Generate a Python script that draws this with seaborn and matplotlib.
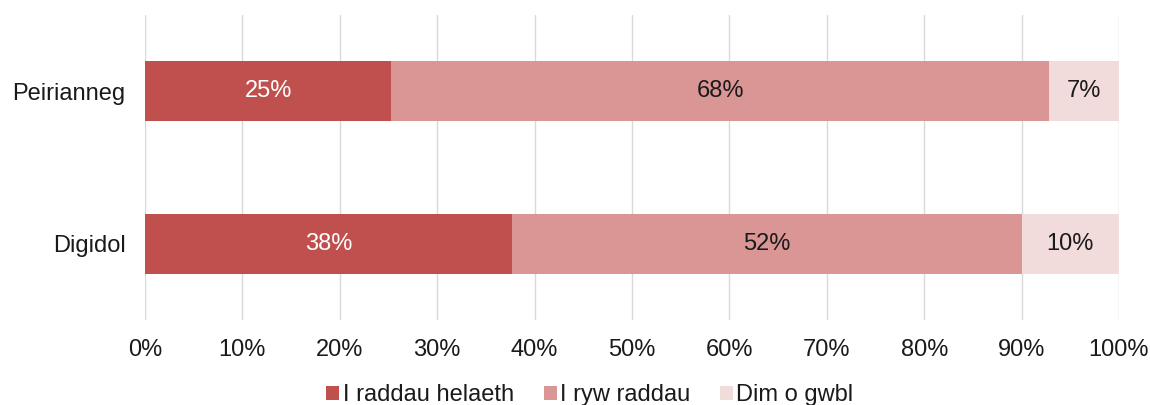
import matplotlib
matplotlib.use("Agg")
import matplotlib.pyplot as plt
import seaborn as sns
import pandas as pd
import numpy as np
from matplotlib.patches import Patch

categories = ["Peirianneg", "Digidol"]
series_names = ["I raddau helaeth", "I ryw raddau", "Dim o gwbl"]
helaeth = [25.3, 37.7]
rhyw = [67.5, 52.3]
dim = [7.2, 10.0]
labels_helaeth = ["25%", "38%"]
labels_rhyw = ["68%", "52%"]
labels_dim = ["7%", "10%"]
colors = ["#C0504D", "#D99694", "#F2DCDB"]
xticks = [0, 10, 20, 30, 40, 50, 60, 70, 80, 90, 100]

sns.set_theme(style="white")
plt.rcParams['font.family'] = ['Liberation Sans', 'DejaVu Sans']
FS = 17

fig = plt.figure(figsize=(11.5, 4.05), dpi=100)
ax = fig.add_axes([145/1150, 1-320/405, (1119-145)/1150, 305/405])

series = [helaeth, rhyw, dim]
cum = np.cumsum(np.array(series), axis=0)
# draw cumulative bars from largest to smallest so they stack visually
for i in range(2, -1, -1):
    df = pd.DataFrame({"cat": categories, "val": cum[i]})
    sns.barplot(data=df, x="val", y="cat", orient="h", color=colors[i],
                width=0.395, saturation=1, ax=ax, zorder=2, linewidth=0)

label_sets = [labels_helaeth, labels_rhyw, labels_dim]
text_colors = ["white", "#1a1a1a", "#1a1a1a"]
for i in range(3):
    for j in range(len(categories)):
        start = cum[i][j] - series[i][j]
        ax.text(start + series[i][j]/2, j, label_sets[i][j], ha="center", va="center",
                fontsize=FS, color=text_colors[i], zorder=3)

ax.set_xlim(0, 100)
ax.set_ylim(1.5, -0.5)
ax.set_xticks(xticks)
ax.set_xticklabels([f"{t}%" for t in xticks], fontsize=FS, color="#1a1a1a")
ax.tick_params(axis="y", labelsize=FS, labelcolor="#1a1a1a", length=0, pad=14)
ax.tick_params(axis="x", length=0, pad=14)
ax.set_xlabel("")
ax.set_ylabel("")
ax.grid(axis="x", color="#D9D9D9", linewidth=1, zorder=0)
ax.set_axisbelow(True)
for s in ax.spines.values():
    s.set_visible(False)

handles = [Patch(facecolor=c, edgecolor="none") for c in colors]
fig.legend(handles, series_names, loc="center", bbox_to_anchor=(590/1150, 1-395/405),
           ncol=3, frameon=False, fontsize=FS, handlelength=0.55, handleheight=0.55,
           handletextpad=0.15, columnspacing=1.25, labelcolor="#1a1a1a")

fig.savefig("out.png", dpi=100)
